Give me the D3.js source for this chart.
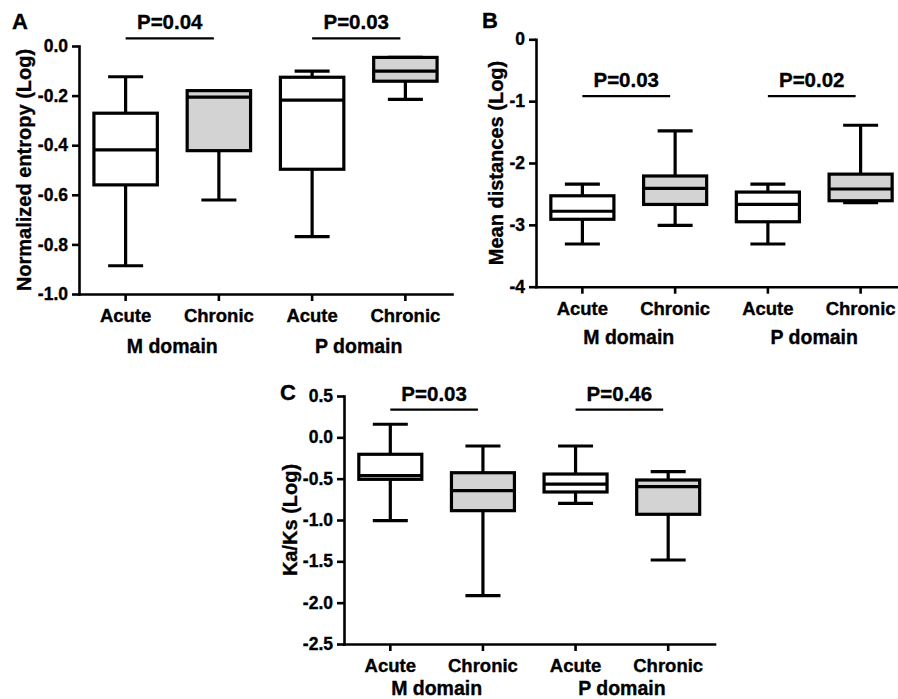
<!DOCTYPE html>
<html>
<head>
<meta charset="utf-8">
<script src="https://cdn.jsdelivr.net/npm/d3@7"></script>
<style>
  body { margin: 0; background: #fff; }
  svg { display: block; }
  text { font-family: Arial, "Liberation Sans", Helvetica, sans-serif; font-weight: bold; fill: #000; stroke: #000; stroke-width: 0.35px; }
</style>
</head>
<body>
<svg id="fig" width="898" height="699"></svg>
<script>
// Groups along every x axis
const groups       = ["M-Acute", "M-Chronic", "P-Acute", "P-Chronic"];
const groupLabels  = ["Acute", "Chronic", "Acute", "Chronic"];
const domainLabels = ["M domain", "P domain"];
const groupFill    = ["#ffffff", "#d3d3d3", "#ffffff", "#d3d3d3"];

// Box stats per group: [min, q1, median, q3, max]
const entropyStats = [
  [-0.886, -0.560, -0.419, -0.271, -0.124],
  [-0.621, -0.422, -0.206, -0.180, -0.180],
  [-0.769, -0.497, -0.218, -0.126, -0.101],
  [-0.215, -0.142, -0.101, -0.046, -0.046],
];
const distanceStats = [
  [-3.31, -2.91, -2.78, -2.53, -2.34],
  [-3.01, -2.67, -2.41, -2.21, -1.48],
  [-3.31, -2.95, -2.67, -2.47, -2.34],
  [-2.64, -2.61, -2.42, -2.18, -1.39],
];
const kaksStats = [
  [-1.008, -0.508, -0.464, -0.205, 0.158],
  [-1.916, -0.887, -0.645, -0.428, -0.105],
  [-0.798, -0.661, -0.565, -0.444, -0.105],
  [-1.484, -0.931, -0.597, -0.516, -0.415],
];

// Tick values
const entropyTicks  = [-1.0, -0.8, -0.6, -0.4, -0.2, 0.0];
const distanceTicks = [-4, -3, -2, -1, 0];
const kaksTicks     = [-2.5, -2.0, -1.5, -1.0, -0.5, 0.0, 0.5];

// Significance labels (M domain, P domain) and the bar height in data units
const entropyP  = ["P=0.04", "P=0.03"];
const distanceP = ["P=0.03", "P=0.02"];
const kaksP     = ["P=0.03", "P=0.46"];
const entropyPBar  = 0.031;
const distancePBar = -0.92;
const kaksPBar     = 0.334;

const svg = d3.select("#fig");

function drawPanel(cfg) {
  const g = svg.append("g");
  const x = d3.scaleBand().domain(groups).range([cfg.left, cfg.right]);
  const y = d3.scaleLinear().domain(cfg.yDomain).range([cfg.bottom, cfg.top]);
  const cx = k => x(k) + x.bandwidth() / 2;
  const boxW = x.bandwidth() * 0.68, capW = 35;

  // y axis
  const ya = g.append("g")
    .attr("transform", `translate(${cfg.left},0)`)
    .call(d3.axisLeft(y).tickValues(cfg.ticks).tickFormat(cfg.fmt)
      .tickSize(7).tickSizeOuter(0).tickPadding(4));
  ya.selectAll("text").attr("font-size", 17.5).attr("font-family", null);

  // x axis
  const xa = g.append("g")
    .attr("transform", `translate(0,${cfg.bottom})`)
    .call(d3.axisBottom(x).tickFormat((d, i) => groupLabels[i])
      .tickSize(7).tickSizeOuter(0).tickPadding(8));
  xa.selectAll("text").attr("font-size", 18.5).attr("font-family", null);

  [ya, xa].forEach(a => {
    a.select(".domain").attr("stroke-width", 2.6).attr("stroke-linecap", "square");
    a.selectAll(".tick line").attr("stroke-width", 2.6);
  });

  // domain labels under the group pairs
  domainLabels.forEach((lab, i) => {
    g.append("text")
      .attr("x", (cx(groups[2 * i]) + cx(groups[2 * i + 1])) / 2)
      .attr("y", cfg.bottom + cfg.domainGap)
      .attr("text-anchor", "middle")
      .attr("font-size", 19.5)
      .text(lab);
  });

  // boxes
  cfg.stats.forEach((s, i) => {
    const [mn, q1, md, q3, mx] = s;
    const c = cx(groups[i]);
    const b = g.append("g").attr("stroke", "#000").attr("stroke-width", 3.2).attr("fill", "none");
    b.append("line").attr("x1", c).attr("x2", c).attr("y1", y(mx)).attr("y2", y(q3));
    b.append("line").attr("x1", c).attr("x2", c).attr("y1", y(q1)).attr("y2", y(mn));
    b.append("line").attr("x1", c - capW / 2).attr("x2", c + capW / 2).attr("y1", y(mx)).attr("y2", y(mx));
    b.append("line").attr("x1", c - capW / 2).attr("x2", c + capW / 2).attr("y1", y(mn)).attr("y2", y(mn));
    b.append("rect")
      .attr("x", c - boxW / 2).attr("width", boxW)
      .attr("y", y(q3)).attr("height", y(q1) - y(q3))
      .attr("fill", groupFill[i]);
    b.append("line").attr("x1", c - boxW / 2).attr("x2", c + boxW / 2).attr("y1", y(md)).attr("y2", y(md));
  });

  // p-value bars
  cfg.pLabels.forEach((lab, i) => {
    const x1 = cx(groups[2 * i]), x2 = cx(groups[2 * i + 1]) - 5;
    const py = y(cfg.pBar);
    g.append("line").attr("x1", x1).attr("x2", x2).attr("y1", py).attr("y2", py)
      .attr("stroke", "#000").attr("stroke-width", 2.2);
    g.append("text")
      .attr("x", (x1 + x2) / 2).attr("y", py - 9)
      .attr("text-anchor", "middle").attr("font-size", 20.5)
      .text(lab);
  });

  // y title
  g.append("text")
    .attr("transform", `translate(${cfg.titleX},${(cfg.top + cfg.bottom) / 2}) rotate(-90)`)
    .attr("text-anchor", "middle").attr("font-size", 20)
    .text(cfg.title);

  // panel letter
  g.append("text").attr("x", cfg.letterX).attr("y", cfg.letterY)
    .attr("font-size", 22).text(cfg.letter);
}

drawPanel({
  left: 79, right: 452, top: 46, bottom: 294, yDomain: [-1, 0],
  ticks: entropyTicks, fmt: d => d.toFixed(1), stats: entropyStats,
  pLabels: entropyP, pBar: entropyPBar, domainGap: 59,
  title: "Normalized entropy (Log)", titleX: 31, letter: "A", letterX: 12, letterY: 29,
});

drawPanel({
  left: 536, right: 907, top: 39.3, bottom: 286.7, yDomain: [-4, 0],
  ticks: distanceTicks, fmt: d => String(d), stats: distanceStats,
  pLabels: distanceP, pBar: distancePBar, domainGap: 57.5,
  title: "Mean distances (Log)", titleX: 503, letter: "B", letterX: 482, letterY: 28,
});

drawPanel({
  left: 344, right: 714.5, top: 396, bottom: 644, yDomain: [-2.5, 0.5],
  ticks: kaksTicks, fmt: d => d.toFixed(1), stats: kaksStats,
  pLabels: kaksP, pBar: kaksPBar, domainGap: 51,
  title: "Ka/Ks (Log)", titleX: 296.5, letter: "C", letterX: 280, letterY: 399.5,
});
</script>
</body>
</html>
